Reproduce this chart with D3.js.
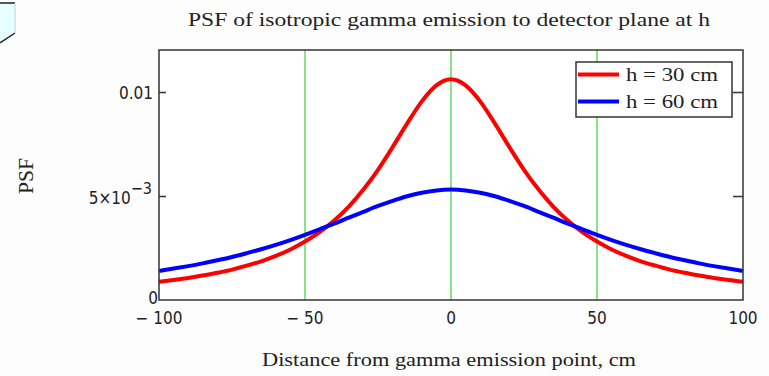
<!DOCTYPE html>
<html>
<head>
<meta charset="utf-8">
<script src="https://cdn.jsdelivr.net/npm/d3@7"></script>
<style>
  body { margin: 0; background: #fdfdfd; }
  svg { display: block; font-family: 'Liberation Serif', 'Times New Roman', serif; }
  .num { font-family: 'Liberation Sans Narrow', 'DejaVu Sans Condensed', 'Arial Narrow', sans-serif; }
</style>
</head>
<body>
<div class="canvas"></div>
<script>
// distance from emission point, cm
const distances = [-100, -95, -90, -85, -80, -75, -70, -65, -60, -55, -50, -45, -40, -35, -30, -25, -20, -15, -10, -5,
  0, 5, 10, 15, 20, 25, 30, 35, 40, 45, 50, 55, 60, 65, 70, 75, 80, 85, 90, 95, 100]
// PSF
const psf30 = [0.00088, 0.00096, 0.00106, 0.00118, 0.00131, 0.00146, 0.00165, 0.00186, 0.00212, 0.00243,
  0.00281, 0.00326, 0.00382, 0.00449, 0.00531, 0.00626, 0.00735, 0.00849, 0.00955, 0.01032,
  0.01061, 0.01032, 0.00955, 0.00849, 0.00735, 0.00626, 0.00531, 0.00449, 0.00382, 0.00326,
  0.00281, 0.00243, 0.00212, 0.00186, 0.00165, 0.00146, 0.00131, 0.00118, 0.00106, 0.00096, 0.00088]
const psf60 = [0.00140, 0.00151, 0.00163, 0.00176, 0.00191, 0.00207, 0.00225, 0.00244, 0.00265, 0.00288,
  0.00313, 0.00340, 0.00367, 0.00396, 0.00424, 0.00452, 0.00477, 0.00499, 0.00516, 0.00527,
  0.00531, 0.00527, 0.00516, 0.00499, 0.00477, 0.00452, 0.00424, 0.00396, 0.00367, 0.00340,
  0.00313, 0.00288, 0.00265, 0.00244, 0.00225, 0.00207, 0.00191, 0.00176, 0.00163, 0.00151, 0.00140]
const seriesNames = ['h = 30 cm', 'h = 60 cm']
const seriesColors = ['#ff0000', '#0000ff']
const xTicks = [-100, -50, 0, 50, 100]
const xTickLabels = ['\u2212 100', '\u2212 50', '0', '50', '100']
const gridXs = [-50, 0, 50]
const yTicks = [0, 0.005, 0.01]

const width = 769, height = 376
const margin = {top: 50, right: 25, bottom: 76, left: 159}
const plotW = 743 - margin.left
const plotH = 300 - margin.top

const svg = d3.select('.canvas').append('svg')
  .attr('width', width)
  .attr('height', height)

// corner fragment at top left
svg.append('path')
  .attr('d', 'M0,3 L15,3 L15,33 L0,43 Z')
  .attr('fill', '#e6ffff')
svg.append('path')
  .attr('d', 'M0,3 L15,3 M15,33 L0,43')
  .attr('stroke', '#222').attr('stroke-width', 1.5).attr('fill', 'none')
svg.append('line')
  .attr('x1', 15).attr('x2', 15).attr('y1', 3).attr('y2', 33)
  .attr('stroke', '#ccc').attr('stroke-width', 1)

const g = svg.append('g')
  .attr('transform', `translate(${margin.left}, ${margin.top})`)

const x = d3.scaleLinear().domain([-100, 100]).range([0, plotW])
const y = d3.scaleLinear().domain([0, 0.01202]).range([plotH, 0])

g.append('rect')
  .attr('width', plotW).attr('height', plotH)
  .attr('fill', '#fff')

// green grid
g.selectAll('.grid').data(gridXs).enter().append('line')
  .attr('class', 'grid')
  .attr('x1', d => x(d)).attr('x2', d => x(d))
  .attr('y1', 0).attr('y2', plotH)
  .attr('stroke', '#5fdc5f').attr('stroke-width', 1.5)

const line = d3.line()
  .x(d => x(d[0]))
  .y(d => y(d[1]))
  .curve(d3.curveMonotoneX)

;[psf30, psf60].forEach((vals, i) => {
  g.append('path')
    .datum(distances.map((d, j) => [d, vals[j]]))
    .attr('d', line)
    .attr('fill', 'none')
    .attr('stroke', seriesColors[i])
    .attr('stroke-width', 4)
})

// frame
g.append('rect')
  .attr('width', plotW).attr('height', plotH)
  .attr('fill', 'none').attr('stroke', '#333').attr('stroke-width', 1.5)

// y ticks inside on both sides
const yAxisL = g.append('g')
  .call(d3.axisRight(y).tickValues(yTicks.slice(1)).tickSize(7).tickFormat(''))
yAxisL.select('.domain').remove()
yAxisL.selectAll('line').attr('stroke', '#333').attr('stroke-width', 1.5)
const yAxisR = g.append('g')
  .attr('transform', `translate(${plotW}, 0)`)
  .call(d3.axisLeft(y).tickValues(yTicks.slice(1)).tickSize(10).tickFormat(''))
yAxisR.select('.domain').remove()
yAxisR.selectAll('line').attr('stroke', '#333').attr('stroke-width', 1.5)

// y tick labels
const ylab = g.append('g').attr('class', 'num').attr('font-size', 17).attr('fill', '#222').attr('text-anchor', 'end')
ylab.append('text').attr('x', -6).attr('y', y(0.01) + 7).text('0.01')
const five = ylab.append('text').attr('x', -7).attr('y', y(0.005) + 8)
five.append('tspan').text('5\u00d710')
five.append('tspan').attr('dy', -10).attr('font-size', 16).text('\u22123')
ylab.append('text').attr('x', -1).attr('y', y(0) + 4).text('0')

// x tick labels
g.append('g').attr('class', 'num').attr('font-size', 17).attr('fill', '#222').attr('text-anchor', 'middle')
  .selectAll('text').data(xTicks).enter().append('text')
  .attr('x', d => x(d))
  .attr('y', plotH + 24)
  .text((d, i) => xTickLabels[i])

// titles
svg.append('text')
  .attr('x', 449).attr('y', 26)
  .attr('text-anchor', 'middle').attr('font-size', 19).attr('fill', '#222')
  .attr('textLength', 522).attr('lengthAdjust', 'spacingAndGlyphs')
  .text('PSF of isotropic gamma emission to detector plane at h')
svg.append('text')
  .attr('x', 449).attr('y', 366)
  .attr('text-anchor', 'middle').attr('font-size', 19).attr('fill', '#222')
  .attr('textLength', 374).attr('lengthAdjust', 'spacingAndGlyphs')
  .text('Distance from gamma emission point, cm')
svg.append('text')
  .attr('transform', 'translate(33, 176) rotate(-90)')
  .attr('text-anchor', 'middle').attr('font-size', 20).attr('fill', '#222')
  .attr('textLength', 36).attr('lengthAdjust', 'spacingAndGlyphs')
  .text('PSF')

// legend
const legend = svg.append('g').attr('transform', 'translate(576, 62)')
legend.append('rect')
  .attr('width', 156).attr('height', 55)
  .attr('fill', '#fff').attr('stroke', '#333').attr('stroke-width', 1.5)
seriesNames.forEach((name, i) => {
  const row = legend.append('g').attr('transform', `translate(0, ${12.5 + i * 27})`)
  row.append('line')
    .attr('x1', 2).attr('x2', 43)
    .attr('stroke', seriesColors[i]).attr('stroke-width', 4)
  row.append('text')
    .attr('x', 50).attr('y', 6)
    .attr('font-size', 19).attr('fill', '#222')
    .attr('textLength', 92).attr('lengthAdjust', 'spacingAndGlyphs')
    .text(name)
})
</script>
</body>
</html>
